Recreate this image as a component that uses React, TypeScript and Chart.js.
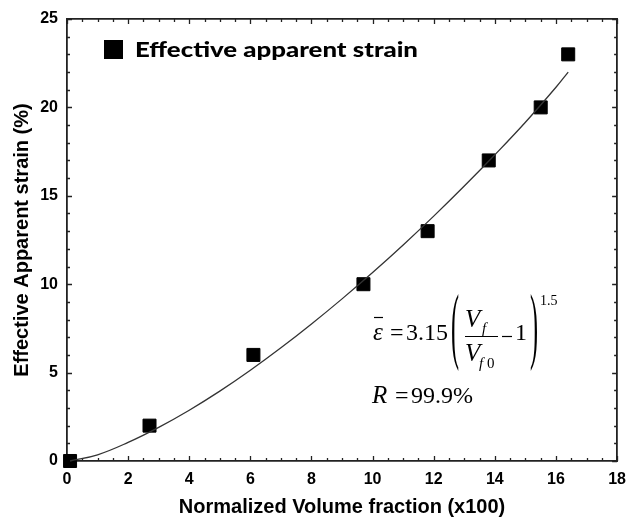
import React, { useEffect, useRef } from 'react';
import { Chart, registerables } from 'chart.js';

Chart.register(...registerables);

// Measured data points (Normalized volume fraction x100, effective apparent strain %)
const pointX = [0.1, 2.7, 6.1, 9.7, 11.8, 13.8, 15.5, 16.4];
const pointY = [0, 2, 6, 10, 13, 17, 20, 23];

// Fitted curve
const fitX = [0.1, 1, 2, 3, 4, 5, 6, 7, 8, 9, 10, 11, 12, 13, 14, 15, 16, 16.4];
const fitY = [0, 0.35, 1.05, 1.9, 2.87, 3.95, 5.13, 6.4, 7.75, 9.17, 10.66, 12.22, 13.85, 15.55, 17.32, 19.16, 21.14, 22.0];

const xMin = 0, xMax = 18, xStep = 2, xMinor = 0.5;
const yMin = 0, yMax = 25, yStep = 5, yMinor = 1;

const legendLabel = 'Effective apparent strain';
const xTitle = 'Normalized Volume fraction (x100)';
const yTitle = 'Effective Apparent strain (%)';

const tickPlugin = {
  id: 'innerTicks',
  beforeDatasetsDraw(chart: any) {
    const { ctx, chartArea, scales } = chart;
    const x = scales.x, y = scales.y;
    ctx.save();
    ctx.strokeStyle = '#222';
    ctx.lineWidth = 1.3;
    ctx.beginPath();
    for (let v = xMin; v <= xMax + 1e-9; v += xMinor) {
      const px = Math.round(x.getPixelForValue(v)) + 0.5;
      const major = Math.abs(v / xStep - Math.round(v / xStep)) < 1e-6;
      const len = major ? 5 : 3;
      ctx.moveTo(px, chartArea.bottom);
      ctx.lineTo(px, chartArea.bottom - len);
      ctx.moveTo(px, chartArea.top);
      ctx.lineTo(px, chartArea.top + len);
    }
    for (let v = yMin; v <= yMax + 1e-9; v += yMinor) {
      const py = Math.round(y.getPixelForValue(v)) + 0.5;
      const major = Math.abs(v / yStep - Math.round(v / yStep)) < 1e-6;
      const len = major ? 5 : 3;
      ctx.moveTo(chartArea.left, py);
      ctx.lineTo(chartArea.left + len, py);
      ctx.moveTo(chartArea.right, py);
      ctx.lineTo(chartArea.right - len, py);
    }
    ctx.stroke();
    ctx.restore();
  },
  afterDraw(chart: any) {
    const { ctx } = chart;
    ctx.save();
    // Legend
    ctx.fillStyle = '#000';
    ctx.fillRect(104, 40, 19, 19);
    ctx.font = '900 21px Lato';
    ctx.textBaseline = 'alphabetic';
    ctx.textAlign = 'left';
    const w = ctx.measureText(legendLabel).width;
    ctx.save();
    ctx.translate(135, 57);
    ctx.scale(283 / w, 1);
    ctx.fillText(legendLabel, 0, 0);
    ctx.restore();

    // Equation
    const serif = '"Liberation Serif", "Times New Roman", serif';
    ctx.font = `italic 25px ${serif}`;
    ctx.fillText('ε', 373, 340);
    ctx.lineWidth = 1.2;
    ctx.strokeStyle = '#000';
    ctx.beginPath();
    ctx.moveTo(374, 317.5);
    ctx.lineTo(383, 317.5);
    ctx.stroke();
    ctx.font = `24px ${serif}`;
    ctx.fillText('=', 390, 340);
    ctx.fillText('3.15', 406, 340);

    // tall parentheses
    const drawParen = (ch: string, px: number, top: number, h: number) => {
      ctx.save();
      ctx.font = `22px ${serif}`;
      const m = ctx.measureText(ch);
      const asc = m.actualBoundingBoxAscent, desc = m.actualBoundingBoxDescent;
      const s = h / (asc + desc);
      ctx.translate(px, top + asc * s);
      ctx.scale(1.1, s);
      ctx.fillText(ch, 0, 0);
      ctx.restore();
    };
    drawParen('(', 451, 295, 77);
    drawParen(')', 530, 295, 77);

    ctx.font = `italic 25px ${serif}`;
    ctx.fillText('V', 465, 327);
    ctx.fillText('V', 465, 361);
    ctx.font = `italic 15px ${serif}`;
    ctx.fillText('f', 482, 333);
    ctx.fillText('f', 479, 368);
    ctx.font = `15px ${serif}`;
    ctx.fillText('0', 487, 368);
    ctx.beginPath();
    ctx.moveTo(465, 336.5);
    ctx.lineTo(498, 336.5);
    ctx.stroke();
    ctx.beginPath();
    ctx.moveTo(502, 336.5);
    ctx.lineTo(512, 336.5);
    ctx.stroke();
    ctx.font = `24px ${serif}`;
    ctx.fillText('1', 515, 340);
    ctx.font = `14px ${serif}`;
    ctx.fillText('1.5', 540, 305);

    ctx.font = `italic 25px ${serif}`;
    ctx.fillText('R', 372, 403);
    ctx.font = `24px ${serif}`;
    ctx.fillText('=', 395, 403);
    ctx.fillText('99.9%', 411, 403);
    ctx.restore();
  },
};

export default function App() {
  const ref = useRef<HTMLCanvasElement | null>(null);
  useEffect(() => {
    document.body.style.margin = '0';
    const canvas = ref.current;
    if (!canvas) return;
    const tickFont = { family: '"Liberation Sans", Arial, sans-serif', size: 16, weight: 'bold' as const };
    const titleFont = { family: '"Liberation Sans", Arial, sans-serif', size: 20, weight: 'bold' as const };
    const border = { display: true, color: '#222', width: 1.8 };
    const chart = new Chart(canvas, {
      type: 'scatter',
      data: {
        datasets: [
          {
            label: 'fit',
            data: fitX.map((x, i) => ({ x, y: fitY[i] })),
            showLine: true,
            borderColor: '#333',
            borderWidth: 1.3,
            pointRadius: 0,
            tension: 0.4,
            clip: false,
          } as any,
          {
            label: legendLabel,
            data: pointX.map((x, i) => ({ x, y: pointY[i] })),
            pointStyle: 'rect',
            pointRadius: 9.2,
            backgroundColor: '#000',
            borderColor: '#000',
            borderWidth: 1,
            clip: false,
          } as any,
        ],
      },
      options: {
        responsive: false,
        animation: false,
        layout: { padding: 0 },
        plugins: { legend: { display: false }, tooltip: { enabled: false } },
        scales: {
          x: {
            type: 'linear',
            position: 'bottom',
            min: xMin,
            max: xMax,
            grid: { display: false, drawTicks: false },
            border,
            ticks: { stepSize: xStep, font: tickFont, color: '#000', padding: 9, maxRotation: 0 },
            title: { display: true, text: xTitle, font: titleFont, color: '#000', padding: { top: 0, bottom: 1 } },
            afterFit: (s: any) => { s.height = 59; },
          },
          x2: {
            type: 'linear',
            position: 'top',
            min: xMin,
            max: xMax,
            grid: { display: false, drawTicks: false },
            border,
            ticks: { display: false },
            afterFit: (s: any) => { s.height = 19; },
          },
          y: {
            type: 'linear',
            position: 'left',
            min: yMin,
            max: yMax,
            grid: { display: false, drawTicks: false },
            border,
            ticks: { stepSize: yStep, font: tickFont, color: '#000', padding: 9 },
            title: { display: true, text: yTitle, font: titleFont, color: '#000', padding: { top: 10, bottom: 0 } },
            afterFit: (s: any) => { s.width = 67; },
          },
          y2: {
            type: 'linear',
            position: 'right',
            min: yMin,
            max: yMax,
            grid: { display: false, drawTicks: false },
            border,
            ticks: { display: false },
            afterFit: (s: any) => { s.width = 8; },
          },
        },
      } as any,
      plugins: [tickPlugin],
    });
    return () => chart.destroy();
  }, []);
  return (
    <div style={{ width: 635, height: 520, background: '#fff' }}>
      <canvas ref={ref} width={635} height={520} style={{ display: 'block' }} />
    </div>
  );
}
